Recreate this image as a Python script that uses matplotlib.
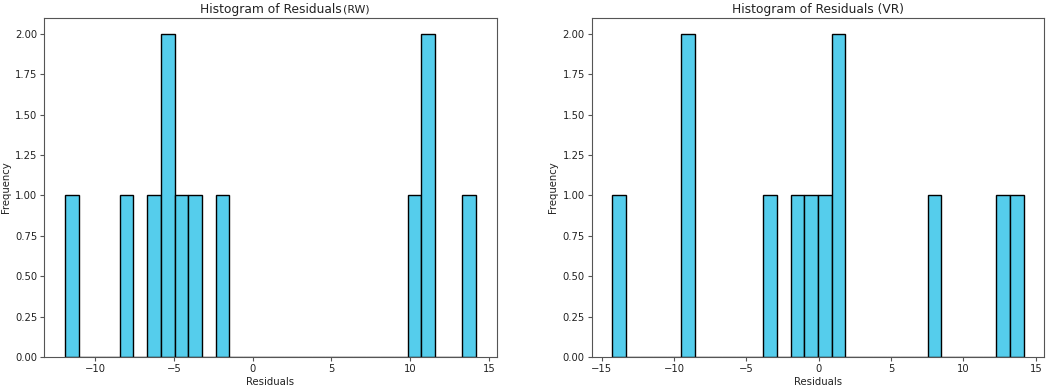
# Two residual histograms side by side (RW and VR models)
import matplotlib
matplotlib.use("Agg")
import matplotlib.pyplot as plt

# Residuals (12 per model)
residuals_rw = [-11.92, -8.0, -6.3, -5.5, -5.2, -4.5, -3.6, -1.9, 10.3, 11.0, 11.3, 14.19]
residuals_vr = [-14.26, -9.2, -8.9, -3.4, -1.5, -0.5, 0.4, 1.3, 1.5, 8.0, 12.7, 14.17]
num_bins = 30

bar_color = "#55CDEC"
spine_color = "#555555"
text_color = "#222222"

plt.rcParams["font.family"] = "DejaVu Sans"
plt.rcParams["text.color"] = text_color
plt.rcParams["axes.labelcolor"] = text_color
plt.rcParams["xtick.color"] = spine_color
plt.rcParams["ytick.color"] = spine_color
plt.rcParams["xtick.labelcolor"] = text_color
plt.rcParams["ytick.labelcolor"] = text_color


def DrawResidualHistogram(ax, residuals, title, suffix=None):
    """Draw one residual histogram with the shared styling."""
    ax.hist(residuals, bins=num_bins, color=bar_color, edgecolor="black", linewidth=1.0)
    title_text = ax.set_title(title, fontsize=8.8, pad=3)
    # The RW panel has its tag set smaller and tight against the title
    if suffix is not None:
        ax.annotate(suffix, xy=(1, 0), xycoords=title_text, xytext=(1, 1.3),
                    textcoords="offset points", ha="left", va="bottom",
                    fontsize=7.9, color=text_color)
    ax.set_xlabel("Residuals", fontsize=7.3, labelpad=2)
    ax.set_ylabel("Frequency", fontsize=7.3, labelpad=3)
    ax.set_yticks([0.0, 0.25, 0.5, 0.75, 1.0, 1.25, 1.5, 1.75, 2.0])
    ax.yaxis.set_major_formatter(plt.FormatStrFormatter("%.2f"))
    ax.tick_params(labelsize=7.2, length=3, pad=2)
    for spine in ax.spines.values():
        spine.set_color(spine_color)


fig = plt.figure(figsize=(10.52, 3.9), dpi=100)
ax_rw = fig.add_axes([0.0421, 0.0846, 0.4300, 0.8705])
ax_vr = fig.add_axes([0.5625, 0.0846, 0.4302, 0.8705])

DrawResidualHistogram(ax_rw, residuals_rw, "Histogram of Residuals", suffix="(RW)")
DrawResidualHistogram(ax_vr, residuals_vr, "Histogram of Residuals (VR)")

fig.savefig("out.png", dpi=100)
